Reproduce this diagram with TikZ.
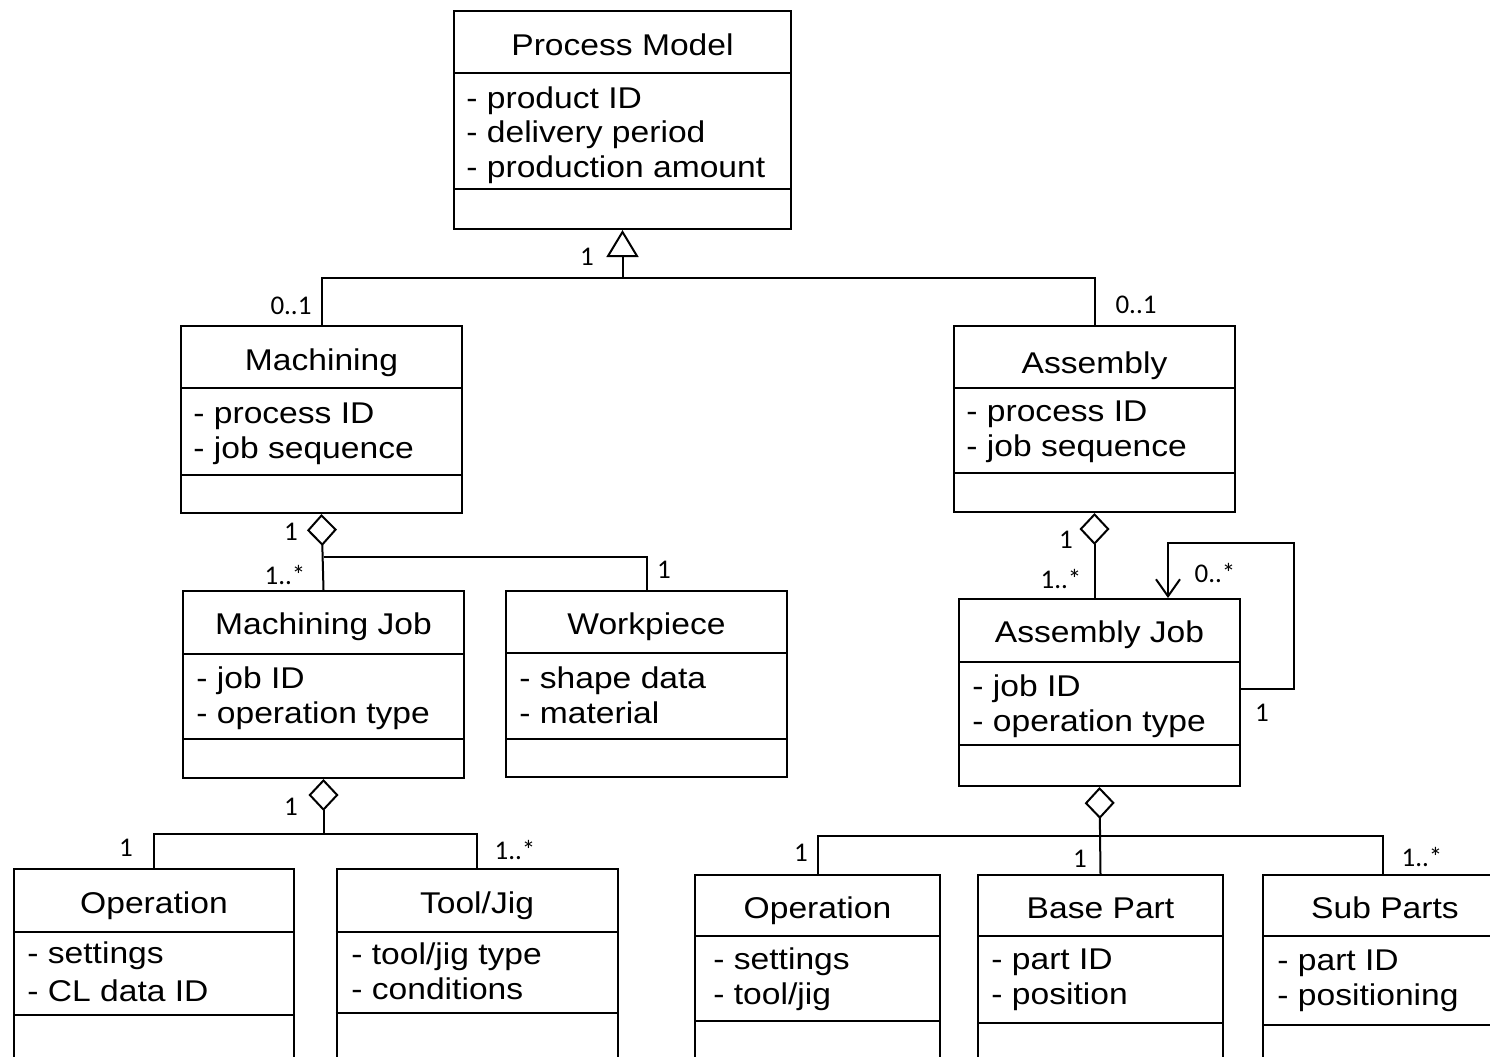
\documentclass[tikz,border=0pt]{standalone}
\usepackage{fontspec}
\setmainfont{Liberation Sans}[FakeStretch=1.12]
\newfontfamily\multfont{Carlito}
\usetikzlibrary{arrows.meta}

\begin{document}
\begin{tikzpicture}[x=0.5pt, y=-0.5pt,
	box/.style={draw, line width=1pt, inner sep=0pt},
	cname/.style={anchor=base, inner sep=0pt, font=\fontsize{15}{17.25}\selectfont},
	attr/.style={anchor=base west, align=left, inner sep=0pt, font=\fontsize{15}{17.25}\selectfont},
	mult/.style={inner sep=0pt, font=\multfont\fontsize{13.5}{16}\selectfont},
	divider/.style={line width=1.2pt},
	link/.style={line width=1pt},
	agg/.style={link, {Diamond[open, length=16pt, width=15pt]}-},
	gen/.style={link, -{Triangle[open, length=13.5pt, width=16pt]}},
	nav/.style={link, -{Straight Barb[length=8.5pt, width=12pt]}}]
	\useasboundingbox (0,0) rectangle (1490,1056);
	\clip (0,0) rectangle (1490,1056);
	\fill[white] (0,0) rectangle (1490,1056);

	\node[box, minimum width=168.5pt, minimum height=109pt] (pm) at (622.5,120) {};
	\node[box, minimum width=140.5pt, minimum height=93.5pt] (mach) at (321.5,419.5) {};
	\node[box, minimum width=140.5pt, minimum height=93pt] (asm) at (1094.5,419) {};
	\node[box, minimum width=140.5pt, minimum height=93.5pt] (mjob) at (323.5,684.5) {};
	\node[box, minimum width=140.5pt, minimum height=93pt] (wp) at (646.5,684) {};
	\node[box, minimum width=140.5pt, minimum height=93.5pt] (ajob) at (1099.5,692.5) {};
	\node[box, minimum width=140pt, minimum height=97pt] (op1) at (154,965.5) {};
	\node[box, minimum width=140.5pt, minimum height=97pt] (tool) at (477,965.5) {};
	\node[box, minimum width=122.5pt, minimum height=93.5pt] (op2) at (817.5,968.5) {};
	\node[box, minimum width=122.5pt, minimum height=93.5pt] (base) at (1100.5,968.5) {};
	\node[box, minimum width=120pt, minimum height=93.5pt] (sub) at (1383,968.5) {};

	\draw[divider] (pm.west |- 0,73) -- (pm.east |- 0,73);
	\draw[divider] (pm.west |- 0,189) -- (pm.east |- 0,189);
	\draw[divider] (mach.west |- 0,388) -- (mach.east |- 0,388);
	\draw[divider] (mach.west |- 0,475) -- (mach.east |- 0,475);
	\draw[divider] (asm.west |- 0,388) -- (asm.east |- 0,388);
	\draw[divider] (asm.west |- 0,473) -- (asm.east |- 0,473);
	\draw[divider] (mjob.west |- 0,654) -- (mjob.east |- 0,654);
	\draw[divider] (mjob.west |- 0,739) -- (mjob.east |- 0,739);
	\draw[divider] (wp.west |- 0,653) -- (wp.east |- 0,653);
	\draw[divider] (wp.west |- 0,739) -- (wp.east |- 0,739);
	\draw[divider] (ajob.west |- 0,662) -- (ajob.east |- 0,662);
	\draw[divider] (ajob.west |- 0,745) -- (ajob.east |- 0,745);
	\draw[divider] (op1.west |- 0,932) -- (op1.east |- 0,932);
	\draw[divider] (op1.west |- 0,1015) -- (op1.east |- 0,1015);
	\draw[divider] (tool.west |- 0,932) -- (tool.east |- 0,932);
	\draw[divider] (tool.west |- 0,1013) -- (tool.east |- 0,1013);
	\draw[divider] (op2.west |- 0,936) -- (op2.east |- 0,936);
	\draw[divider] (op2.west |- 0,1021) -- (op2.east |- 0,1021);
	\draw[divider] (base.west |- 0,936) -- (base.east |- 0,936);
	\draw[divider] (base.west |- 0,1023) -- (base.east |- 0,1023);
	\draw[divider] (sub.west |- 0,936) -- (sub.east |- 0,936);
	\draw[divider] (sub.west |- 0,1025) -- (sub.east |- 0,1025);

	\node[cname] (pmT) at (622.5,55) {Process Model};
	\node[cname] (machT) at (321.5,370) {Machining};
	\node[cname] (asmT) at (1094.5,373) {Assembly};
	\node[cname] (mjobT) at (323.5,634) {Machining Job};
	\node[cname] (wpT) at (646.5,634) {Workpiece};
	\node[cname] (ajobT) at (1099.5,642) {Assembly Job};
	\node[cname] (op1T) at (154,913) {Operation};
	\node[cname] (toolT) at (477,913) {Tool/Jig};
	\node[cname] (op2T) at (817.5,918) {Operation};
	\node[cname] (baseT) at (1100.5,918) {Base Part};
	\node[cname] (subT) at (1385,918) {Sub Parts};

	\node[attr] (pmA) at (466,177) {- product ID\\- delivery period\\- production amount};
	\node[attr] (machA) at (193,458) {- process ID\\- job sequence};
	\node[attr] (asmA) at (966,456) {- process ID\\- job sequence};
	\node[attr] (mjobA) at (196,723) {- job ID\\- operation type};
	\node[attr] (wpA) at (519,723) {- shape data\\- material};
	\node[attr] (ajobA) at (972,731) {- job ID\\- operation type};
	\node[attr, font=\fontsize{15}{19}\selectfont] (op1A) at (27,1001) {- settings\\- CL data ID};
	\node[attr] (toolA) at (351,999) {- tool/jig type\\- conditions};
	\node[attr] (op2A) at (713,1004) {- settings\\- tool/jig};
	\node[attr] (baseA) at (991,1004) {- part ID\\- position};
	\node[attr] (subA) at (1277,1005) {- part ID\\- positioning};

	\coordinate (g) at (pm.south |- 0,278);
	\draw[gen] (g) -- (pm.south);
	\draw[link] (mach.north) |- (g) -| (asm.north);

	\coordinate (mj) at (mjob.north |- 0,557);
	\draw[agg] (mach.south) -- (mjob.north);
	\draw[link] (mj) -| (wp.north);

	\coordinate (mt) at (mjob.south |- 0,834);
	\draw[agg] (mjob.south) -- (mt);
	\draw[link] (op1.north) |- (mt) -| (tool.north);

	\draw[agg] (asm.south) -- (asm.south |- ajob.north);
	\draw[nav] ([yshift=1.75pt]ajob.east) -- ++(53,0) -- ++(0,-146) -| ([xshift=34.25pt]ajob.north);

	\coordinate (at) at (ajob.south |- 0,836);
	\draw[agg] (ajob.south) -- (base.north);
	\draw[link] (op2.north) |- (at) -| (sub.north);

	\node[mult] (m1) at (587,257) {1};
	\node[mult] (m2) at (291,306) {0..1};
	\node[mult] (m3) at (1136,305) {0..1};
	\node[mult] (m4) at (291,532) {1};
	\node[mult] (m5) at (285,575) {1..*};
	\node[mult] (m6) at (664,570) {1};
	\node[mult] (m7) at (291,807) {1};
	\node[mult] (m8) at (126,848) {1};
	\node[mult] (m9) at (515,850) {1..*};
	\node[mult] (m10) at (1066,540) {1};
	\node[mult] (m11) at (1061,579) {1..*};
	\node[mult] (m12) at (1215,573) {0..*};
	\node[mult] (m13) at (1262,713) {1};
	\node[mult] (m14) at (801,853) {1};
	\node[mult] (m15) at (1080,859) {1};
	\node[mult] (m16) at (1422,857) {1..*};
\end{tikzpicture}
\end{document}
